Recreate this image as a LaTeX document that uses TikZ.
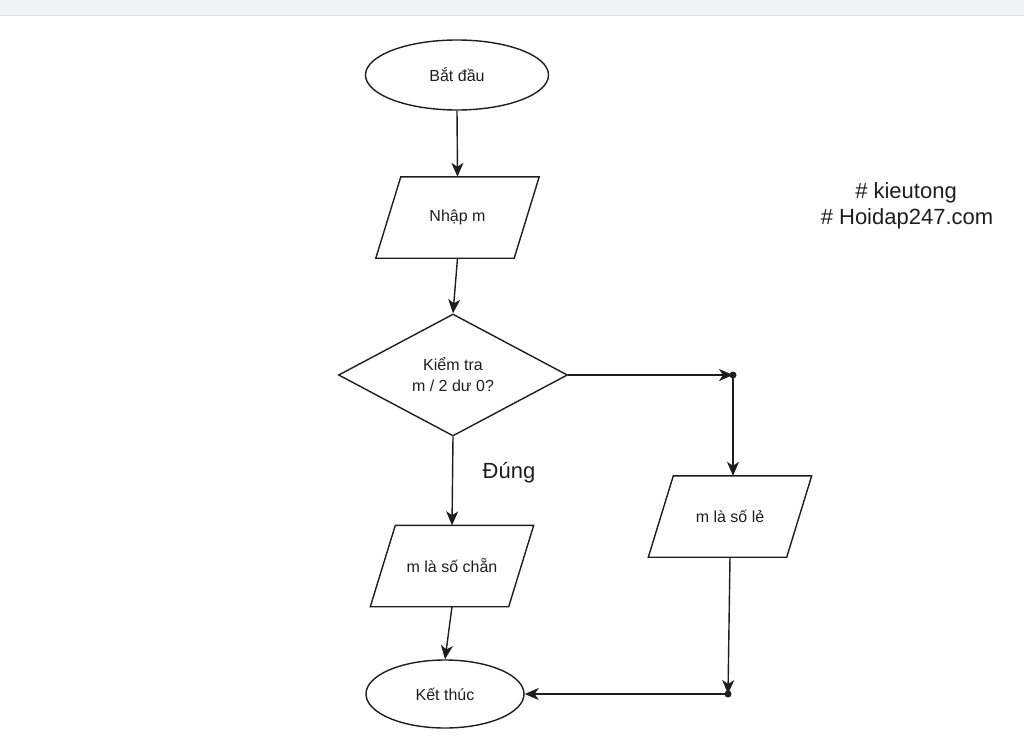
\documentclass[tikz,border=0pt]{standalone}
\usepackage{fontspec}
\setmainfont{Liberation Sans}
\usetikzlibrary{shapes.geometric,arrows.meta}
\definecolor{barbg}{HTML}{F1F2F4}
\definecolor{barline}{HTML}{DDDFE2}
\definecolor{ink}{HTML}{1E1E1E}
\newcommand{\iodraw}[1]{%
  \draw[ink, line width=1.4pt, line join=miter]
    ([xshift=12.5pt]#1.north west) -- ([xshift=12.5pt]#1.north east)
    -- ([xshift=-12.5pt]#1.south east) -- ([xshift=-12.5pt]#1.south west) -- cycle;}
\begin{document}
\begin{tikzpicture}[x=1pt,y=-1pt,
  every node/.style={text=ink, font=\fontsize{16}{19}\selectfont},
  terminal/.style={ellipse, draw=ink, line width=1.4pt, inner sep=0pt},
  iobox/.style={rectangle, draw=none, inner sep=0pt,
    minimum width=138pt, minimum height=81pt},
  decision/.style={diamond, draw=ink, line width=1.4pt, inner sep=0pt, aspect=1.88,
    minimum width=229pt, minimum height=122pt, align=center},
  conn/.style={draw=ink, line width=1.4pt, -{Stealth[length=14pt,width=12pt,inset=4pt]}},
  bigtext/.style={font=\fontsize{22}{26}\selectfont}
]
\useasboundingbox (0,0) rectangle (1024,741);
\fill[barbg] (0,0) rectangle (1024,15);
\draw[barline, line width=1.5pt] (0,15.5) -- (1024,15.5);

\node[terminal, minimum width=183pt, minimum height=70pt] (start) at (457,75) {Bắt đầu};
\node[iobox] (input) at (457.5,217.5) {Nhập m};
\node[decision] (check) at (453,375) {Kiểm tra\\[2pt]m / 2 dư 0?};
\node[iobox] (even) at (452,566) {m là số chẵn};
\node[iobox] (odd) at (730,516.5) {m là số lẻ};
\node[terminal, minimum width=158pt, minimum height=68pt] (stop) at (445,694) {Kết thúc};
\iodraw{input}
\iodraw{even}
\iodraw{odd}

\coordinate (j1) at (733,375);
\coordinate (j2) at (728,694);

\path[conn] (start.south) -- (input.north);
\path[conn] (input.south) -- (check.north);
\path[conn] (check.east) -- (j1);
\fill[ink] (j1) circle (3.5pt);
\path[conn] (j1) -- (j1 |- odd.north);
\path[conn] (check.south) -- (even.north);
\path[conn] (even.south) -- (stop.north);
\path[conn] (odd.south) -- (j2);
\fill[ink] (j2) circle (3.5pt);
\path[conn] (j2) -- (stop.east);

\node[bigtext] (yes) at (509,473) {Đúng};
\node[bigtext] (tag1) at (906,193) {\# kieutong};
\node[bigtext] (tag2) at (907,219) {\# Hoidap247.com};
\end{tikzpicture}
\end{document}
